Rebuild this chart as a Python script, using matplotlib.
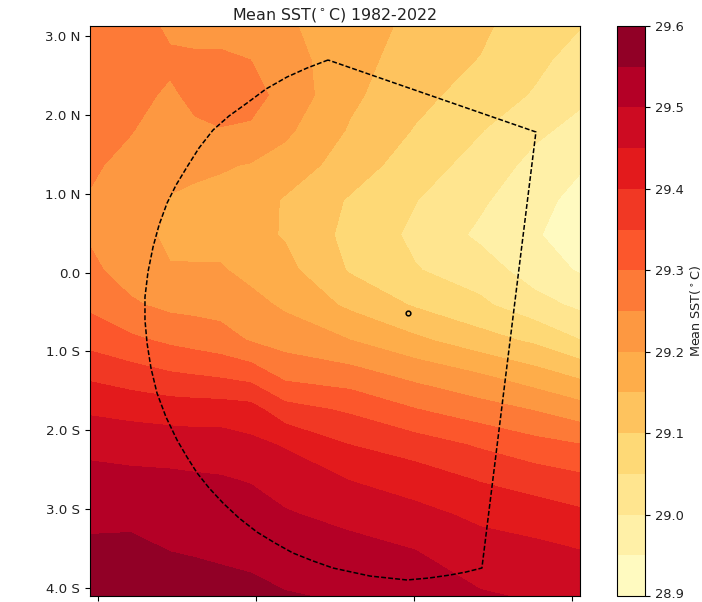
import matplotlib
matplotlib.use("Agg")
import matplotlib.pyplot as plt
from matplotlib.transforms import ScaledTranslation
import numpy as np

lons = [-0.051, 0.203, 0.456, 0.614, 0.772, 0.965, 1.184, 1.595, 2.006, 2.418, 2.766, 3.051]
lats = [3.127, 2.696, 2.252, 1.808, 1.364, 0.920, 0.477, 0.033, -0.411, -0.855,
        -1.299, -1.743, -2.186, -2.630, -3.074, -3.518, -4.101]

sst_by_col = [
    [29.29, 29.285, 29.28, 29.27, 29.258, 29.246, 29.245, 29.26, 29.29, 29.332, 29.39, 29.443, 29.486, 29.517, 29.54, 29.558, 29.58],
    [29.29, 29.28, 29.27, 29.253, 29.235, 29.225, 29.22, 29.23, 29.257, 29.31, 29.373, 29.435, 29.48, 29.513, 29.54, 29.56, 29.585],
    [29.235, 29.262, 29.24, 29.225, 29.21, 29.198, 29.19, 29.203, 29.238, 29.29, 29.356, 29.427, 29.478, 29.51, 29.53, 29.549, 29.575],
    [29.232, 29.258, 29.265, 29.24, 29.212, 29.188, 29.183, 29.205, 29.235, 29.28, 29.35, 29.425, 29.475, 29.507, 29.527, 29.546, 29.57],
    [29.235, 29.257, 29.27, 29.248, 29.205, 29.185, 29.183, 29.205, 29.232, 29.27, 29.343, 29.425, 29.475, 29.504, 29.522, 29.543, 29.565],
    [29.228, 29.25, 29.268, 29.243, 29.197, 29.175, 29.165, 29.185, 29.216, 29.246, 29.33, 29.42, 29.462, 29.497, 29.522, 29.54, 29.56],
    [29.205, 29.22, 29.233, 29.21, 29.18, 29.145, 29.146, 29.165, 29.192, 29.23, 29.285, 29.37, 29.446, 29.478, 29.505, 29.527, 29.553],
    [29.18, 29.17, 29.16, 29.145, 29.125, 29.095, 29.085, 29.095, 29.14, 29.2, 29.27, 29.343, 29.40, 29.449, 29.485, 29.517, 29.545],
    [29.135, 29.125, 29.115, 29.097, 29.075, 29.052, 29.04, 29.053, 29.095, 29.16, 29.235, 29.303, 29.375, 29.427, 29.465, 29.50, 29.527],
    [29.11, 29.098, 29.078, 29.053, 29.03, 29.008, 28.99, 29.025, 29.06, 29.12, 29.203, 29.272, 29.344, 29.397, 29.44, 29.47, 29.505],
    [29.07, 29.062, 29.045, 29.01, 28.985, 28.965, 28.955, 28.975, 29.018, 29.09, 29.17, 29.248, 29.317, 29.378, 29.425, 29.462, 29.495],
    [29.052, 29.03, 29.01, 28.985, 28.955, 28.935, 28.922, 28.945, 28.99, 29.05, 29.14, 29.222, 29.302, 29.362, 29.41, 29.45, 29.483],
]

levels = [28.9, 28.95, 29.0, 29.05, 29.1, 29.15, 29.2, 29.25, 29.3, 29.35, 29.4, 29.45, 29.5, 29.55, 29.6]
cbar_ticks = [28.9, 29.0, 29.1, 29.2, 29.3, 29.4, 29.5, 29.6]

yticks = [3, 2, 1, 0, -1, -2, -3, -4]
ylabels = ["3.0 N", "2.0 N", "1.0 N", "0.0", "1.0 S", "2.0 S", "3.0 S", "4.0 S"]
xticks = [0, 1, 2, 3]

outline_x = [1.456, 1.323, 1.196, 1.063, 0.943, 0.829, 0.728, 0.639, 0.563, 0.494, 0.437, 0.386, 0.348,
             0.316, 0.297, 0.297, 0.310, 0.335, 0.373, 0.430, 0.500, 0.563, 0.627, 0.703, 0.791, 0.892,
             1.006, 1.120, 1.234, 1.361, 1.487, 1.722, 1.956, 2.095, 2.228, 2.329, 2.430, 2.772, 1.456]
outline_y = [2.696, 2.594, 2.480, 2.328, 2.150, 1.986, 1.808, 1.580, 1.339, 1.111, 0.882, 0.603, 0.324,
             0.007, -0.310, -0.601, -0.893, -1.210, -1.527, -1.831, -2.123, -2.339, -2.541, -2.732, -2.922, -3.112,
             -3.290, -3.429, -3.556, -3.657, -3.746, -3.848, -3.898, -3.873, -3.835, -3.797, -3.746, 1.783, 2.696]

site_x = [1.962]
site_y = [-0.513]

W, H = 702, 602
fig = plt.figure(figsize=(W / 100, H / 100), dpi=100)
ax = fig.add_axes([90 / W, (H - 596) / H, 490 / W, 570 / H])
cax = fig.add_axes([617 / W, (H - 596) / H, 28 / W, 570 / H])

cf = ax.contourf(lons, lats, np.array(sst_by_col).T, levels=levels, cmap="YlOrRd")
ax.plot(outline_x, outline_y, color="black", lw=1.1, ls=(0, (3.2, 1.4)))
ax.plot(site_x, site_y, marker="o", ms=3.4, mfc="none", mec="black", mew=1.1, ls="none")

ax.set_xlim(-0.051, 3.051)
ax.set_ylim(-4.101, 3.127)
ax.set_xticks(xticks)
ax.set_xticklabels([])
ax.set_yticks(yticks)
ax.set_yticklabels(ylabels, fontsize=9.6, color="#222222")
ax.tick_params(length=3.5, width=0.8)
ax.set_title("Mean SST($^\\circ$C) 1982-2022", fontsize=11.4, pad=5, color="#222222")

cb = fig.colorbar(cf, cax=cax, ticks=cbar_ticks)
cb.ax.set_yticklabels([f"{t:.1f}" for t in cbar_ticks], fontsize=9.4, color="#222222")
cb.ax.tick_params(length=3.5, width=0.8)
cb.set_label("Mean SST($^\\circ$C)", fontsize=9.2, labelpad=3, color="#222222")
low_label = cb.ax.get_yticklabels()[0]
low_label.set_transform(low_label.get_transform() + ScaledTranslation(0, 2 / 72, fig.dpi_scale_trans))

fig.savefig("out.png", dpi=100)
